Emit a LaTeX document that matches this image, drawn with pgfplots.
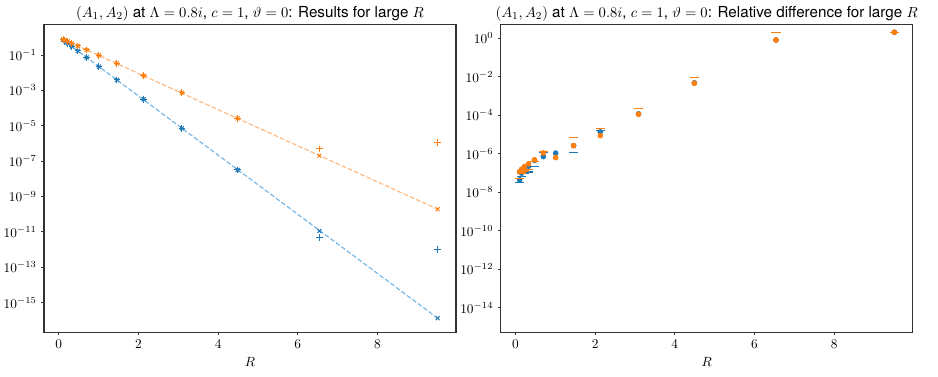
\documentclass[border=0pt]{standalone}
\usepackage{fontspec}
\setmainfont{TeX Gyre Heros}
\usepackage{pgfplots}
\pgfplotsset{compat=1.18}

\definecolor{cblue}{HTML}{1F77B4}
\definecolor{corange}{HTML}{FF7F0E}
\definecolor{lblue}{RGB}{120,184,232}
\definecolor{lorange}{RGB}{255,187,130}

\pgfplotsset{
  every axis title shift=0pt,
  panel/.style={
    scale only axis, width=309pt, height=230.8pt,
    xmin=-0.37, xmax=9.97, xtick={0,2,4,6,8}, xlabel={$R$},
    tick pos=left, tick align=outside, major tick length=2pt,
    yminorticks=false,
    axis line style={black!80, line width=0.8pt},
    every tick/.style={black!80, line width=0.6pt},
    title style={at={(0.5,1)}, anchor=base, yshift=5.8pt,
      font=\fontsize{11.4}{13}\selectfont},
  },
  dline/.style={line width=0.9pt, dash pattern=on 3.5pt off 1.6pt, no marks},
  pts/.style={only marks, mark size=2.1pt},
}

\begin{document}
\begin{tikzpicture}
% left: values
\begin{semilogyaxis}[panel, at={(0,0)}, anchor=south west,
  ymin=2e-17, ymax=5.0,
  ytick={1e-15,1e-13,1e-11,1e-9,1e-7,1e-5,1e-3,1e-1},
  title={$(A_1, A_2)$ at $\Lambda=0.8i$, $c=1$, $\vartheta=0$: Results for large $R$}]
\addplot[dline, lblue] coordinates {(0.107,0.708) (9.51,1.32e-16)};
\addplot[dline, lorange] coordinates {(0.107,0.776) (9.51,1.91e-10)};
\addplot[pts, cblue, mark=x, mark options={draw=cblue, line width=0.75pt}] coordinates {
 (0.107,0.708) (0.155,0.589) (0.225,0.447) (0.33,0.302) (0.48,0.170)
 (0.70,0.0724) (1.01,0.0219) (1.46,3.89e-3) (2.13,3.16e-4) (3.09,7.24e-6)
 (4.49,3.16e-8) (6.54,1.12e-11) (9.51,1.32e-16)};
\addplot[pts, cblue, mark=+, mark size=2.5pt, mark options={draw=cblue, line width=0.75pt}] coordinates {
 (0.107,0.708) (0.155,0.589) (0.225,0.447) (0.33,0.302) (0.48,0.170)
 (0.70,0.0724) (1.01,0.0219) (1.46,3.89e-3) (2.13,3.16e-4) (3.09,7.24e-6)
 (4.49,3.16e-8) (6.54,4.68e-12) (9.51,1.0e-12)};
\addplot[pts, corange, mark=x, mark options={draw=corange, line width=0.75pt}] coordinates {
 (0.107,0.776) (0.155,0.692) (0.225,0.589) (0.33,0.457) (0.48,0.324)
 (0.70,0.195) (1.01,0.0955) (1.46,0.0339) (2.13,6.76e-3) (3.09,7.41e-4)
 (4.49,2.63e-5) (6.54,2.04e-7) (9.51,1.91e-10)};
\addplot[pts, corange, mark=+, mark size=2.5pt, mark options={draw=corange, line width=0.75pt}] coordinates {
 (0.107,0.776) (0.155,0.692) (0.225,0.589) (0.33,0.457) (0.48,0.324)
 (0.70,0.195) (1.01,0.0955) (1.46,0.0339) (2.13,6.76e-3) (3.09,7.41e-4)
 (4.49,2.63e-5) (6.54,4.90e-7) (9.51,1.15e-6)};
\end{semilogyaxis}

% right: relative differences
\begin{semilogyaxis}[panel, at={(342.5pt,0)}, anchor=south west,
  ymin=5e-16, ymax=4.9,
  ytick={1e-14,1e-12,1e-10,1e-8,1e-6,1e-4,1e-2,1},
  title={$(A_1, A_2)$ at $\Lambda=0.8i$, $c=1$, $\vartheta=0$: Relative difference for large $R$}]
\addplot[only marks, mark=*, mark size=1.9pt, cblue] coordinates {
 (0.107,4.37e-8) (0.155,9.77e-8) (0.225,1.41e-7) (0.33,2.24e-7) (0.48,4.47e-7)
 (0.70,7.08e-7) (1.01,1.07e-6) (1.46,2.63e-6) (2.13,1.35e-5) (3.09,1.17e-4)
 (4.49,4.79e-3) (6.54,0.813) (9.51,2.04)};
\addplot[only marks, mark=-, mark size=3.4pt, cblue, mark options={line width=0.9pt}] coordinates {
 (0.107,3.16e-8) (0.155,6.46e-8) (0.225,8.91e-8) (0.33,1.12e-7) (0.48,2.14e-7)
 (0.70,1.20e-6) (1.46,1.20e-6) (2.13,1.58e-5) (3.09,2.14e-4)
 (4.49,8.91e-3) (6.54,2.04) (9.51,2.04)};
\addplot[only marks, mark=*, mark size=1.9pt, corange] coordinates {
 (0.107,1.17e-7) (0.155,1.55e-7) (0.225,2.14e-7) (0.33,2.95e-7) (0.48,4.79e-7)
 (0.70,1.10e-6) (1.01,6.31e-7) (1.46,2.63e-6) (2.13,8.71e-6) (3.09,1.12e-4)
 (4.49,4.57e-3) (6.54,0.813) (9.51,2.04)};
\addplot[only marks, mark=-, mark size=3.4pt, corange, mark options={line width=0.9pt}] coordinates {
 (0.107,5.37e-8) (0.155,1.0e-7) (0.225,1.26e-7) (0.33,1.45e-7) (0.48,3.89e-7)
 (0.70,1.29e-6) (1.46,7.24e-6) (2.13,2.09e-5) (3.09,2.14e-4)
 (4.49,8.91e-3) (6.54,2.04) (9.51,2.04)};
\end{semilogyaxis}

\pgfresetboundingbox
\path[use as bounding box] (-33pt,-32.5pt) rectangle (670.5pt,249.5pt);
\end{tikzpicture}
\end{document}
